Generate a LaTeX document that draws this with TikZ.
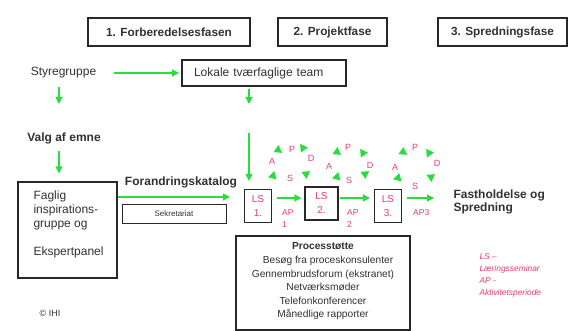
\documentclass[tikz,border=0pt]{standalone}
\usepackage{fontspec}
\setmainfont{Liberation Sans}
\usetikzlibrary{arrows.meta,shapes.geometric}
\definecolor{agreen}{RGB}{40,222,60}
\definecolor{lspink}{RGB}{228,60,120}
\definecolor{txt}{RGB}{50,50,50}
\definecolor{bord}{RGB}{40,40,40}
\begin{document}
\begin{tikzpicture}[x=1pt,y=-1pt,
  box/.style={draw=bord, line width=1.1pt, inner sep=0pt, text=txt},
  hdr/.style={box, font=\fontsize{11.8}{14}\selectfont\bfseries, minimum height=28pt},
  reg/.style={text=txt, font=\fontsize{12}{14}\selectfont},
  bld/.style={text=txt, font=\fontsize{12}{13}\selectfont\bfseries},
  garrow/.style={draw=agreen, line width=1.2pt, -{Triangle[length=7pt,width=7pt]}},
  pinktxt/.style={text=lspink, font=\fontsize{8.5}{12}\selectfont, inner sep=0pt},
  pdsa/.style={text=lspink, font=\fontsize{9}{10}\selectfont, inner sep=0pt},
  ptri/.style={isosceles triangle, isosceles triangle apex angle=60, fill=agreen, inner sep=0pt, minimum size=7.5pt},
  lsbox/.style={box, text=lspink, font=\fontsize{10}{14}\selectfont, align=center, minimum height=33pt}
]
\useasboundingbox[fill=white] (0,0) rectangle (569,331);

% phase headers
\node[hdr, minimum width=162pt] (ph1) at (169,32) {1. Forberedelsesfasen};
\node[hdr, minimum width=109pt] (ph2) at (332.5,32) {2. Projektfase};
\node[hdr, minimum width=129pt] (ph3) at (502.5,32) {3. Spredningsfase};

% left column
\node[reg] (sty) at (63.5,73) {Styregruppe};
\node[box, reg, line width=1.9pt, text width=140pt, inner xsep=12pt, minimum height=26pt, align=left] (lok) at (264,73) {Lokale tværfaglige team};
\draw[garrow, shorten <=14pt, shorten >=2pt] (sty) -- (lok);

\coordinate (colL) at (59,0);
\coordinate (s2) at (59,104);
\draw[garrow, shorten <=5pt] (sty.south -| colL) -- (s2);

\node[bld] (vae) at (64,138) {Valg af emne};
\node[box, minimum width=99pt, minimum height=96pt] (fag) at (67.5,230) {};
\draw[garrow, shorten <=4pt, shorten >=8pt] (vae.south -| colL) -- (fag.north -| colL);
\node[reg, anchor=north west, align=left] (fagt) at (30,187) {Faglig\\inspirations-\\gruppe og\\[14pt]Ekspertpanel};

\node[text=txt, font=\fontsize{9}{10}\selectfont] (ihi) at (50,313) {© IHI};

% forandringskatalog
\node[bld] (fk) at (181,182) {Forandringskatalog};
\node[box, line width=1pt, minimum width=104pt, minimum height=19pt, font=\fontsize{8}{9}\selectfont] (sek) at (174,213.5) {Sekretariat};

% LS boxes
\node[lsbox, minimum width=27pt] (ls1) at (258,206) {LS\\1.};
\node[lsbox, minimum width=33pt] (ls2) at (321.5,203.5) {LS\\2.};
\node[lsbox, minimum width=27pt] (ls3) at (388,206) {LS\\3.};

\coordinate (rowF) at (0,197);
\draw[garrow, shorten >=14pt] (fag.east |- rowF) -- (ls1.west |- rowF);

\coordinate (colM) at (249,0);
\coordinate (l2) at (249,104);
\coordinate (l3) at (249,133);
\draw[garrow, shorten <=2pt] (lok.south -| colM) -- (l2);
\draw[garrow, shorten >=8pt] (l3) -- (ls1.north -| colM);

\node[bld, anchor=west, align=left, font=\fontsize{12}{12.6}\selectfont\bfseries] (fast) at (450,202) {Fastholdelse og\\Spredning};

\coordinate (rowA) at (0,198);
\draw[garrow, shorten <=5pt, shorten >=3pt] (ls1.east |- rowA) -- (ls2.west |- rowA);
\draw[garrow, shorten <=1pt, shorten >=4pt] (ls2.east |- rowA) -- (ls3.west |- rowA);
\draw[garrow, shorten <=5pt, shorten >=16pt] (ls3.east |- rowA) -- (fast.west |- rowA);

\node[pinktxt, anchor=west, align=left] (ap1) at (282,219) {AP\\1};
\node[pinktxt, anchor=west, align=left] (ap2) at (347,219) {AP\\2};
\node[pinktxt, anchor=west] (ap3) at (413,213) {AP3};

% PDSA cycle 1
\node[pdsa] (p1) at (292,149) {P};
\node[pdsa] (a1) at (272,161) {A};
\node[pdsa] (d1) at (311,158) {D};
\node[pdsa] (q1) at (290,178) {S};
\node[ptri, rotate=205] (t1a) at (278,150) {};
\node[ptri, rotate=125] (t1b) at (303,148) {};
\node[ptri, rotate=315] (t1c) at (273,176) {};
\node[ptri, rotate=35] (t1d) at (306,174) {};
% PDSA cycle 2
\node[pdsa] (p2) at (348,147) {P};
\node[pdsa] (a2) at (329,166) {A};
\node[pdsa] (d2) at (370,165) {D};
\node[pdsa] (q2) at (349,180) {S};
\node[ptri, rotate=205] (t2a) at (337,152) {};
\node[ptri, rotate=125] (t2b) at (363,153) {};
\node[ptri, rotate=315] (t2c) at (337,177) {};
\node[ptri, rotate=35] (t2d) at (365,174) {};
% PDSA cycle 3
\node[pdsa] (p3) at (415,147) {P};
\node[pdsa] (a3) at (395,167) {A};
\node[pdsa] (d3) at (437,163) {D};
\node[pdsa] (q3) at (415,186) {S};
\node[ptri, rotate=205] (t3a) at (403,152) {};
\node[ptri, rotate=125] (t3b) at (429,153) {};
\node[ptri, rotate=315] (t3c) at (398,178) {};
\node[ptri, rotate=35] (t3d) at (431,177) {};

% process support
\node[box, minimum width=174pt, minimum height=94pt] (pro) at (323,283) {};
\node[text=txt, align=center, font=\fontsize{10.2}{13.6}\selectfont] (prot) at (323,281.5) {\textbf{Processtøtte}\\\hspace*{10pt}Besøg fra proceskonsulenter\\Gennembrudsforum (ekstranet)\\Netværksmøder\\Telefonkonferencer\\Månedlige rapporter};

% legend
\node[anchor=north west, align=left, text=lspink, font=\fontsize{8.4}{12}\selectfont\itshape] (leg) at (476,250) {LS –\\Læringsseminar\\AP -\\Aktivitetsperiode};
\end{tikzpicture}
\end{document}
